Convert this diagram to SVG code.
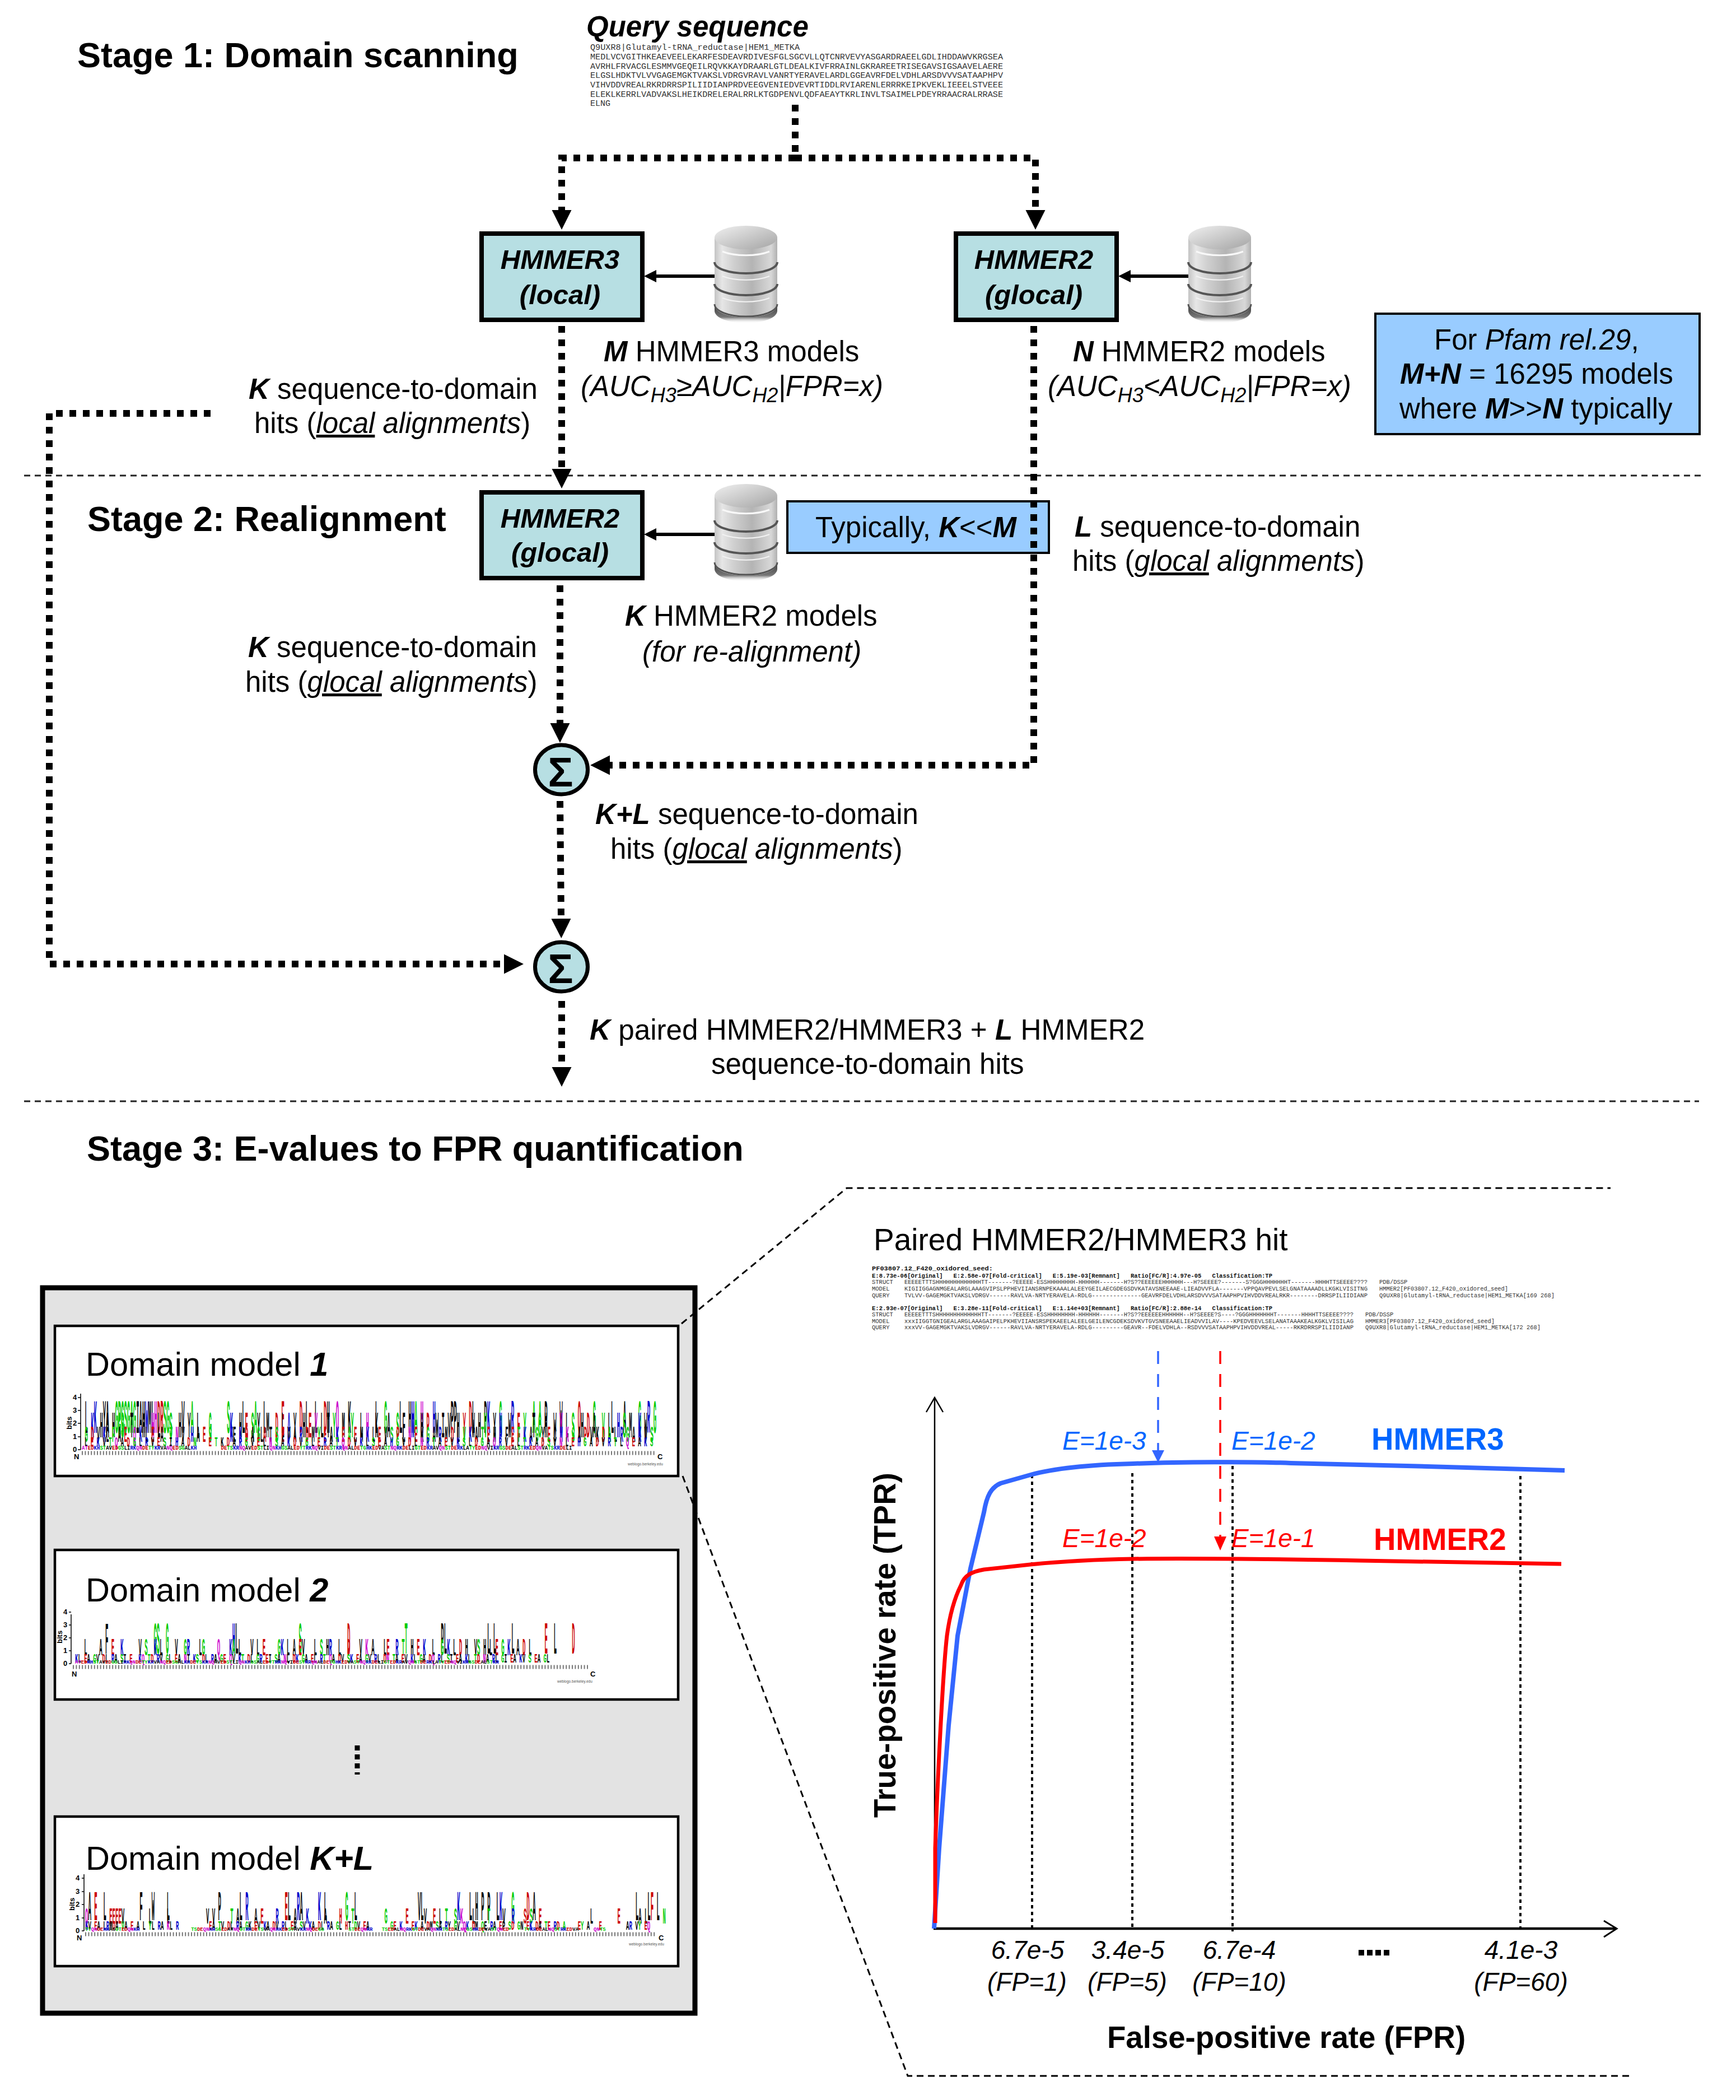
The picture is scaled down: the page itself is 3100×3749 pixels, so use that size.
<svg xmlns="http://www.w3.org/2000/svg" width="3100" height="3749" viewBox="0 0 3100 3749">
<style>
text{font-family:"Liberation Sans",Arial,sans-serif;fill:#000}
.f{font-size:51px}
.i{font-style:italic}
.bi{font-style:italic;font-weight:bold}
.u{text-decoration:underline}
.title{font-size:63px;font-weight:bold}
.node{font-size:49px;font-style:italic;font-weight:bold;text-anchor:middle}
.sig{font-size:75px;font-weight:bold;text-anchor:middle}
.box{fill:#b7dfe3;stroke:#000;stroke-width:8}
.note{fill:#99ccff;stroke:#000;stroke-width:4}
.dm{font-size:59.5px}
.thick{fill:none;stroke:#000;stroke-width:12;stroke-dasharray:12 12}
.sep{fill:none;stroke:#222;stroke-width:3;stroke-dasharray:11 8}
.trap{fill:none;stroke:#000;stroke-width:3;stroke-dasharray:12 8}
.dot{fill:none;stroke:#000;stroke-width:4;stroke-dasharray:6 6}
.seq{font-family:"Liberation Mono",monospace;font-size:15px;fill:#333}
.aln{font-family:"Liberation Mono",monospace;font-size:10.5px;fill:#333}
.alb{font-family:"Liberation Mono",monospace;font-size:11px;fill:#111;font-weight:bold}
.ev{font-size:46px;font-style:italic}
.ax{font-size:46px;font-style:italic;text-anchor:middle}
.lab{font-size:54.6px;font-weight:bold}
.lg{font-family:"Liberation Mono",monospace;font-size:9px;font-weight:bold;white-space:pre}
.g{fill:#00cc00}.b{fill:#0000cc}.r{fill:#cc0000}.m{fill:#cc00cc}
.tk{font-size:13px;font-weight:bold}
.wb{font-size:6.5px;fill:#555}
.num{fill:none;stroke:#777;stroke-width:7;stroke-dasharray:2 3.4}
.logoax{fill:none;stroke:#000;stroke-width:1.5}
</style>
<defs>
<linearGradient id="dbBody" x1="0" x2="1" y1="0" y2="0">
<stop offset="0" stop-color="#c4c4c4"/><stop offset=".12" stop-color="#e6e6e6"/><stop offset=".3" stop-color="#d0d0d0"/><stop offset=".6" stop-color="#b4b4b4"/><stop offset=".9" stop-color="#d8d8d8"/><stop offset="1" stop-color="#b0b0b0"/>
</linearGradient>
<linearGradient id="dbTop" x1="0" x2="1" y1="0" y2="1">
<stop offset="0" stop-color="#f0f0f0"/><stop offset="1" stop-color="#a4a4a4"/>
</linearGradient>
<linearGradient id="dbShade" x1="0" x2="0" y1="0" y2="1">
<stop offset="0" stop-color="#333"/><stop offset=".7" stop-color="#777"/><stop offset="1" stop-color="#fff" stop-opacity="0"/>
</linearGradient>
<g id="db">
<path d="M0 138 A56 22 0 0 0 112 138 L112 152 A56 22 0 0 1 0 152 Z" fill="url(#dbShade)"/>
<path d="M0 20 L112 20 L112 142 A56 22 0 0 1 0 142 Z" fill="url(#dbBody)"/>
<path d="M0 140 A56 22 0 0 0 112 140" fill="none" stroke="#555" stroke-width="3"/>
<path d="M0 65 A56 20 0 0 0 112 65" fill="none" stroke="#555" stroke-width="4"/>
<path d="M0 104 A56 20 0 0 0 112 104" fill="none" stroke="#555" stroke-width="4"/>
<path d="M14 90 A56 20 0 0 0 98 90" fill="none" stroke="#f2f2f2" stroke-width="2"/>
<path d="M14 129 A56 20 0 0 0 98 129" fill="none" stroke="#f2f2f2" stroke-width="2"/>
<path d="M14 46 A56 20 0 0 0 98 46" fill="none" stroke="#f8f8f8" stroke-width="3"/>
<ellipse cx="56" cy="21" rx="56" ry="21" fill="url(#dbTop)"/>
</g>
<marker id="ah" markerUnits="userSpaceOnUse" markerWidth="36" markerHeight="36" refX="0" refY="18" orient="auto"><path d="M0 0.5L35 18L0 35.5Z" fill="#000"/></marker>
<marker id="as" markerUnits="userSpaceOnUse" markerWidth="24" markerHeight="24" refX="0" refY="12" orient="auto"><path d="M0 1L22 12L0 23Z" fill="#000"/></marker>
<marker id="ab" markerUnits="userSpaceOnUse" markerWidth="24" markerHeight="24" refX="0" refY="12" orient="auto"><path d="M0 1L22 12L0 23Z" fill="#3366ff"/></marker>
<marker id="ar" markerUnits="userSpaceOnUse" markerWidth="26" markerHeight="24" refX="0" refY="12" orient="auto"><path d="M0 1L25 12L0 23Z" fill="#ff0000"/></marker>
</defs>
<rect width="3100" height="3749" fill="#fff"/>

<g id="separators">
<line class="sep" x1="43" y1="849" x2="3037" y2="849"/>
<line class="sep" x1="43" y1="1966" x2="3034" y2="1966"/>
</g>

<g id="titles">
<text class="title" x="138" y="120">Stage 1: Domain scanning</text>
<text class="title" x="156" y="948">Stage 2: Realignment</text>
<text class="title" x="155" y="2072">Stage 3: E-values to FPR quantification</text>
</g>

<g id="query">
<text class="bi" font-size="51" x="1047" y="65">Query sequence</text>
<text class="seq" x="1054" y="89" textLength="374" lengthAdjust="spacingAndGlyphs">Q9UXR8|Glutamyl-tRNA_reductase|HEM1_METKA</text>
<text class="seq" x="1054" y="106" textLength="737" lengthAdjust="spacingAndGlyphs">MEDLVCVGITHKEAEVEELEKARFESDEAVRDIVESFGLSGCVLLQTCNRVEVYASGARDRAEELGDLIHDDAWVKRGSEA</text>
<text class="seq" x="1054" y="123" textLength="737" lengthAdjust="spacingAndGlyphs">AVRHLFRVACGLESMMVGEQEILRQVKKAYDRAARLGTLDEALKIVFRRAINLGKRAREETRISEGAVSIGSAAVELAERE</text>
<text class="seq" x="1054" y="139" textLength="737" lengthAdjust="spacingAndGlyphs">ELGSLHDKTVLVVGAGEMGKTVAKSLVDRGVRAVLVANRTYERAVELARDLGGEAVRFDELVDHLARSDVVVSATAAPHPV</text>
<text class="seq" x="1054" y="156" textLength="737" lengthAdjust="spacingAndGlyphs">VIHVDDVREALRKRDRRSPILIIDIANPRDVEEGVENIEDVEVRTIDDLRVIARENLERRRKEIPKVEKLIEEELSTVEEE</text>
<text class="seq" x="1054" y="173" textLength="737" lengthAdjust="spacingAndGlyphs">ELEKLKERRLVADVAKSLHEIKDRELERALRRLKTGDPENVLQDFAEAYTKRLINVLTSAIMELPDEYRRAACRALRRASE</text>
<text class="seq" x="1054" y="189" textLength="36" lengthAdjust="spacingAndGlyphs">ELNG</text>
</g>

<g id="hmmer3-local">
<rect class="box" x="860" y="417" width="287" height="154"/>
<text class="node" x="1000" y="480">HMMER3</text>
<text class="node" x="1000" y="543">(local)</text>
</g>
<g id="db-m"><use href="#db" x="1276" y="403"/></g>
<g id="hmmer2-glocal-1">
<rect class="box" x="1707" y="417" width="287" height="154"/>
<text class="node" x="1846" y="480">HMMER2</text>
<text class="node" x="1846" y="543">(glocal)</text>
</g>
<g id="db-n"><use href="#db" x="2122" y="403"/></g>
<g id="hmmer2-glocal-2">
<rect class="box" x="860" y="879" width="287" height="153"/>
<text class="node" x="1000" y="942">HMMER2</text>
<text class="node" x="1000" y="1003">(glocal)</text>
</g>
<g id="db-k"><use href="#db" x="1276" y="864"/></g>

<g id="note-pfam">
<rect class="note" x="2456" y="560" width="579" height="215"/>
<text class="f" x="2561" y="624">For <tspan class="i">Pfam rel.29</tspan>,</text>
<text class="f" x="2500" y="685"><tspan class="bi">M+N</tspan> = 16295 models</text>
<text class="f" x="2499" y="747">where <tspan class="bi">M</tspan>&gt;&gt;<tspan class="bi">N</tspan> typically</text>
</g>
<g id="note-kmm">
<rect class="note" x="1406" y="895" width="467" height="92"/>
<text class="f" x="1456" y="959">Typically, <tspan class="bi">K</tspan>&lt;&lt;<tspan class="bi">M</tspan></text>
</g>

<g id="labels">
<text class="f" x="1078" y="645"><tspan class="bi">M</tspan> HMMER3 models</text>
<text class="f i" x="1037" y="707">(AUC<tspan font-size="36" dy="11">H3</tspan><tspan dy="-11">≥AUC</tspan><tspan font-size="36" dy="11">H2</tspan><tspan dy="-11">|FPR=x)</tspan></text>
<text class="f" x="1916" y="645"><tspan class="bi">N</tspan> HMMER2 models</text>
<text class="f i" x="1871" y="707">(AUC<tspan font-size="36" dy="11">H3</tspan><tspan dy="-11">&lt;AUC</tspan><tspan font-size="36" dy="11">H2</tspan><tspan dy="-11">|FPR=x)</tspan></text>
<text class="f" x="444" y="712"><tspan class="bi">K</tspan> sequence-to-domain</text>
<text class="f" x="454" y="773">hits (<tspan class="i u">local</tspan><tspan class="i"> alignments</tspan>)</text>
<text class="f" x="1919" y="958"><tspan class="bi">L</tspan> sequence-to-domain</text>
<text class="f" x="1915" y="1019">hits (<tspan class="i u">glocal</tspan><tspan class="i"> alignments</tspan>)</text>
<text class="f" x="1116" y="1117"><tspan class="bi">K</tspan> HMMER2 models</text>
<text class="f i" x="1147" y="1181">(for re-alignment)</text>
<text class="f" x="443" y="1173"><tspan class="bi">K</tspan> sequence-to-domain</text>
<text class="f" x="438" y="1235">hits (<tspan class="i u">glocal</tspan><tspan class="i"> alignments</tspan>)</text>
<text class="f" x="1063" y="1471"><tspan class="bi">K+L</tspan> sequence-to-domain</text>
<text class="f" x="1090" y="1533">hits (<tspan class="i u">glocal</tspan><tspan class="i"> alignments</tspan>)</text>
<text class="f" style="font-size:51.2px" x="1053" y="1856"><tspan class="bi">K</tspan> paired HMMER2/HMMER3 + <tspan class="bi">L</tspan> HMMER2</text>
<text class="f" x="1270" y="1917">sequence-to-domain hits</text>
</g>

<g id="sum-1">
<ellipse cx="1002.5" cy="1374" rx="47" ry="44" fill="#b7dfe3" stroke="#000" stroke-width="7"/>
<text class="sig" x="1001" y="1404">Σ</text>
</g>
<g id="sum-2">
<ellipse cx="1002.5" cy="1726" rx="47" ry="44" fill="#b7dfe3" stroke="#000" stroke-width="7"/>
<text class="sig" x="1001" y="1755">Σ</text>
</g>

<g id="connectors">
<path class="thick" d="M1420 187V282"/>
<path class="thick" d="M1420 282H1003V375" marker-end="url(#ah)"/>
<path class="thick" d="M1420 282H1849V375" marker-end="url(#ah)"/>
<path class="thick" d="M1003 582V837" marker-end="url(#ah)"/>
<path class="thick" d="M1846 582V1366H1089" marker-end="url(#ah)"/>
<path class="thick" d="M376 738H88V1721H900" marker-end="url(#ah)"/>
<path class="thick" d="M1000 1045V1291" marker-end="url(#ah)"/>
<path class="thick" d="M1000 1430L1002 1640" marker-end="url(#ah)"/>
<path class="thick" d="M1003 1787V1905" marker-end="url(#ah)"/>
<line x1="1276" y1="493" x2="1172" y2="493" stroke="#000" stroke-width="6" marker-end="url(#as)"/>
<line x1="2122" y1="493" x2="2019" y2="493" stroke="#000" stroke-width="6" marker-end="url(#as)"/>
<line x1="1276" y1="954" x2="1172" y2="954" stroke="#000" stroke-width="6" marker-end="url(#as)"/>
</g>

<g id="domain-panel">
<rect x="76" y="2299" width="1165" height="1295" fill="#e3e3e3" stroke="#000" stroke-width="9"/>
</g>

<g id="domain-1">
<rect x="98" y="2367" width="1113" height="268" fill="#fff" stroke="#000" stroke-width="4.5"/>
<text class="dm" x="153" y="2456">Domain model <tspan class="bi">1</tspan></text>
<path class="logoax" d="M144 2488V2588M139 2588H144M139 2565H144M139 2541H144M139 2518H144M139 2495H144"/>
<text class="tk" x="130" y="2499">4</text><text class="tk" x="130" y="2522">3</text><text class="tk" x="130" y="2545">2</text><text class="tk" x="130" y="2569">1</text><text class="tk" x="130" y="2592">0</text>
<text class="tk" transform="translate(128,2552) rotate(-90)">bits</text>
<line class="num" x1="146" y1="2594" x2="1172" y2="2594"/>
<text class="tk" x="132" y="2605">N</text><text class="tk" x="1174" y="2605">C</text>
<text class="wb" x="1121" y="2616">weblogo.berkeley.edu</text>
<g transform="translate(0,2588)">
<text class="lg" x="146" y="-3.2" transform="scale(1,9.5)"> L  <tspan class="b">K</tspan>  YA  <tspan class="g">GPGSGAG</tspan>IAH<tspan class="b">W</tspan>ML<tspan class="m">H</tspan><tspan class="r">DR</tspan><tspan class="g">SG</tspan>    V  <tspan class="g">A</tspan>           <tspan class="g">S</tspan>    L   <tspan class="g">A</tspan>  L     <tspan class="r">E</tspan>     <tspan class="r">D</tspan> L  L  <tspan class="r">D</tspan>H  <tspan class="m">Q</tspan>   K        L  <tspan class="g">G</tspan>    L  H<tspan class="b">H</tspan><tspan class="g">A</tspan> <tspan class="m">H</tspan>   <tspan class="b">H</tspan>     PP    <tspan class="r">D</tspan>L   P<tspan class="b">K</tspan>   <tspan class="g">G</tspan>   <tspan class="b">R</tspan>      <tspan class="g">A</tspan> <tspan class="g">A</tspan> P    W     <tspan class="r">Q</tspan>    <tspan class="g">G</tspan>     L   A    <tspan class="g">G</tspan>  <tspan class="b">R</tspan> <tspan class="g">G</tspan></text>
<text class="lg" x="146" y="-2.9" transform="scale(1,7.5)">   <tspan class="b">K</tspan>  H A H <tspan class="g">GS</tspan>  T   H  <tspan class="m">H</tspan> L   <tspan class="g">S</tspan>  H  Y  L   <tspan class="g">G</tspan>      <tspan class="b">K</tspan>  H <tspan class="r">E</tspan> <tspan class="g">S</tspan> Y  M  <tspan class="r">D</tspan> L <tspan class="b">A</tspan> Y  H <tspan class="r">E</tspan> <tspan class="m">Y</tspan> L T <tspan class="g">Y</tspan>  M  <tspan class="g">Y</tspan>  L <tspan class="m">H</tspan>  K   A  <tspan class="g">S</tspan> F  <tspan class="b">N</tspan>  H <tspan class="r">P</tspan>  W I V  H <tspan class="r">Y</tspan>  W H <tspan class="g">V</tspan>  Y <tspan class="b">N</tspan>  W  <tspan class="r">E</tspan> <tspan class="g">Y</tspan>  T <tspan class="g">C</tspan> H  W <tspan class="m">Y</tspan> L <tspan class="g">S</tspan>  H <tspan class="r">D</tspan> A  <tspan class="g">V</tspan> L  <tspan class="b">H</tspan> <tspan class="g">S</tspan> M  <tspan class="b">K</tspan> W</text>
<text class="lg" x="146" y="-3.1" transform="scale(1,4.5)"> <tspan class="g">G</tspan> <tspan class="r">D</tspan> V <tspan class="b">K</tspan>L <tspan class="g">F</tspan> A <tspan class="r">E</tspan>  <tspan class="m">Q</tspan> <tspan class="b">K</tspan> L <tspan class="r">E</tspan>  A  <tspan class="g">T</tspan> <tspan class="m">N</tspan> V  <tspan class="b">H</tspan> A <tspan class="r">E</tspan> <tspan class="g">S</tspan>      <tspan class="b">K</tspan>E <tspan class="b">K</tspan> <tspan class="r">D</tspan> A <tspan class="g">G</tspan>L<tspan class="r">A</tspan> T <tspan class="g">S</tspan> <tspan class="r">E</tspan> V A <tspan class="b">R</tspan> <tspan class="r">D</tspan> M <tspan class="g">Y</tspan> <tspan class="r">E</tspan> A <tspan class="b">K</tspan> <tspan class="r">E</tspan> <tspan class="g">A</tspan> <tspan class="r">E</tspan> M <tspan class="b">K</tspan> L <tspan class="r">E</tspan> V <tspan class="g">S</tspan> <tspan class="r">P</tspan> L <tspan class="m">N</tspan> <tspan class="r">E</tspan> K <tspan class="g">G</tspan> A <tspan class="b">R</tspan> M <tspan class="r">D</tspan> L <tspan class="g">V</tspan> <tspan class="b">K</tspan> A <tspan class="g">T</tspan> <tspan class="r">E</tspan> H <tspan class="b">P</tspan> F <tspan class="r">E</tspan> <tspan class="g">T</tspan> <tspan class="b">K</tspan> A <tspan class="g">G</tspan> Y <tspan class="r">E</tspan> C <tspan class="b">M</tspan> <tspan class="m">K</tspan> <tspan class="g">S</tspan> A <tspan class="r">P</tspan> V K <tspan class="r">D</tspan> <tspan class="g">A</tspan> L <tspan class="b">R</tspan> <tspan class="g">G</tspan> A <tspan class="b">K</tspan> V <tspan class="g">S</tspan></text>
<text class="lg" x="151" y="-2.3" transform="scale(1,2.6)">L <tspan class="r">E</tspan> <tspan class="b">K</tspan> V <tspan class="g">T</tspan> <tspan class="m">Q</tspan> A <tspan class="r">D</tspan> <tspan class="g">G</tspan> L <tspan class="b">R</tspan> V <tspan class="r">E</tspan> <tspan class="g">S</tspan> I <tspan class="b">H</tspan> A <tspan class="r">D</tspan> <tspan class="g">N</tspan>    <tspan class="r">E</tspan> <tspan class="g">T</tspan> K <tspan class="r">D</tspan> A <tspan class="b">R</tspan> <tspan class="g">G</tspan> V <tspan class="r">E</tspan> L <tspan class="m">N</tspan> <tspan class="g">S</tspan> A <tspan class="b">K</tspan> <tspan class="r">D</tspan> V <tspan class="g">G</tspan> L <tspan class="r">E</tspan> <tspan class="b">R</tspan> A <tspan class="g">T</tspan> <tspan class="m">Q</tspan> <tspan class="r">D</tspan> V <tspan class="b">K</tspan> L <tspan class="g">S</tspan> <tspan class="r">E</tspan> A <tspan class="b">H</tspan> <tspan class="g">G</tspan> V <tspan class="r">D</tspan> L <tspan class="m">N</tspan> <tspan class="b">R</tspan> <tspan class="g">T</tspan> A <tspan class="r">E</tspan> V <tspan class="b">K</tspan> <tspan class="g">S</tspan> L <tspan class="r">D</tspan> <tspan class="g">G</tspan> A <tspan class="m">Q</tspan> <tspan class="b">R</tspan> V <tspan class="r">E</tspan> L <tspan class="g">T</tspan> <tspan class="b">K</tspan> A <tspan class="r">D</tspan> <tspan class="g">S</tspan> V <tspan class="m">N</tspan> L <tspan class="r">E</tspan> <tspan class="b">H</tspan> <tspan class="g">G</tspan> A <tspan class="r">D</tspan> V <tspan class="b">R</tspan> <tspan class="g">T</tspan> L <tspan class="m">Q</tspan> <tspan class="r">E</tspan> A <tspan class="b">K</tspan> <tspan class="g">S</tspan></text>
<text class="lg" x="146" y="-0.2" transform="scale(1,1.2)"><tspan class="m">AT</tspan><tspan class="r">ED</tspan><tspan class="b">KH</tspan><tspan class="g">ST</tspan>AV<tspan class="r">ED</tspan><tspan class="g">GS</tspan>LI<tspan class="b">RK</tspan><tspan class="m">QN</tspan><tspan class="r">DE</tspan><tspan class="g">TY</tspan><tspan class="b">KR</tspan>VA<tspan class="m">NQ</tspan><tspan class="r">ED</tspan><tspan class="g">SG</tspan>AL<tspan class="b">KH</tspan>        <tspan class="r">DE</tspan><tspan class="g">TS</tspan><tspan class="b">KR</tspan><tspan class="m">NQ</tspan>AV<tspan class="r">ED</tspan><tspan class="g">ST</tspan>LI<tspan class="m">QN</tspan><tspan class="b">KH</tspan><tspan class="g">GS</tspan>AL<tspan class="r">ED</tspan><tspan class="g">YT</tspan><tspan class="b">RK</tspan><tspan class="m">NQ</tspan>VI<tspan class="r">DE</tspan><tspan class="g">ST</tspan><tspan class="b">KR</tspan><tspan class="m">QN</tspan>AL<tspan class="r">DE</tspan><tspan class="g">TG</tspan><tspan class="b">HK</tspan><tspan class="r">ED</tspan>VA<tspan class="g">ST</tspan><tspan class="m">NQ</tspan><tspan class="b">RK</tspan><tspan class="r">DE</tspan>LI<tspan class="g">GT</tspan><tspan class="r">ED</tspan><tspan class="b">KR</tspan>AV<tspan class="m">QN</tspan><tspan class="g">ST</tspan><tspan class="r">DE</tspan><tspan class="b">RK</tspan>LA<tspan class="g">TY</tspan><tspan class="r">ED</tspan><tspan class="m">NQ</tspan>VI<tspan class="b">KR</tspan><tspan class="g">GS</tspan><tspan class="r">DE</tspan>AL<tspan class="g">ST</tspan><tspan class="b">RK</tspan><tspan class="r">ED</tspan><tspan class="m">QN</tspan>VA<tspan class="g">TS</tspan><tspan class="b">KR</tspan><tspan class="r">DE</tspan>LI</text>
</g>
</g>

<g id="domain-2">
<rect x="98" y="2767" width="1113" height="267" fill="#fff" stroke="#000" stroke-width="4.5"/>
<text class="dm" x="153" y="2859">Domain model <tspan class="bi">2</tspan></text>
<path class="logoax" d="M127 2882V2970M123 2970H127M123 2947H127M123 2924H127M123 2901H127M123 2878H127"/>
<text class="tk" x="113" y="2882">4</text><text class="tk" x="113" y="2905">3</text><text class="tk" x="113" y="2928">2</text><text class="tk" x="113" y="2951">1</text><text class="tk" x="113" y="2974">0</text>
<text class="tk" transform="translate(111,2934) rotate(-90)">bits</text>
<line class="num" x1="130" y1="2976" x2="1052" y2="2976"/>
<text class="tk" x="128" y="2993">N</text><text class="tk" x="1054" y="2993">C</text>
<text class="wb" x="995" y="3004">weblogo.berkeley.edu</text>
<g transform="translate(0,2970)">
<text class="lg" x="134" y="-2" transform="scale(1,9)">          F               <tspan class="g">GS</tspan>  <tspan class="g">G</tspan>                     <tspan class="b">H</tspan>L                    <tspan class="g">S</tspan>               <tspan class="r">D</tspan>                  <tspan class="g">T</tspan>           PL</text>
<text class="lg" x="870" y="-2" transform="scale(1,9)">L L     L          <tspan class="r">E</tspan>  L     <tspan class="r">D</tspan></text>
<text class="lg" x="134" y="-3" transform="scale(1,5)">   L    A   <tspan class="r">E</tspan>  <tspan class="b">K</tspan>     V <tspan class="g">S</tspan>  <tspan class="b">K</tspan> L    V  <tspan class="g">G</tspan><tspan class="b">R</tspan>   L<tspan class="g">G</tspan>    <tspan class="m">Q</tspan>   <tspan class="b">K</tspan><tspan class="g">A</tspan> L   V L <tspan class="r">E</tspan>    <tspan class="g">G</tspan><tspan class="b">K</tspan> L A <tspan class="r">E</tspan>V   L <tspan class="g">S</tspan> H<tspan class="b">R</tspan>  L  <tspan class="r">D</tspan>   V <tspan class="m">K</tspan> A   L<tspan class="r">E</tspan>  <tspan class="b">R</tspan> <tspan class="g">T</tspan>  H <tspan class="r">E</tspan> <tspan class="b">K</tspan>  L  <tspan class="g">G</tspan> <tspan class="b">K</tspan> L <tspan class="r">D</tspan> H  V<tspan class="g">S</tspan> H L <tspan class="r">E</tspan> <tspan class="g">G</tspan> <tspan class="b">K</tspan>  A <tspan class="r">D</tspan> L</text>
<text class="lg" x="134" y="-1" transform="scale(1,2.4)"><tspan class="b">K</tspan>L <tspan class="r">E</tspan>A <tspan class="g">G</tspan>V <tspan class="r">D</tspan>L <tspan class="b">R</tspan>A <tspan class="g">S</tspan>I <tspan class="r">E</tspan>  <tspan class="b">K</tspan><tspan class="m">Q</tspan> <tspan class="g">T</tspan><tspan class="r">D</tspan> <tspan class="b">R</tspan>V <tspan class="g">G</tspan>L <tspan class="r">E</tspan>A <tspan class="m">N</tspan>I <tspan class="b">K</tspan><tspan class="g">S</tspan> <tspan class="r">D</tspan>L <tspan class="b">R</tspan>A <tspan class="g">G</tspan><tspan class="r">E</tspan> <tspan class="m">Q</tspan>V <tspan class="b">K</tspan><tspan class="g">T</tspan> <tspan class="r">D</tspan>L <tspan class="g">G</tspan><tspan class="b">R</tspan> <tspan class="r">E</tspan>I <tspan class="g">S</tspan>A <tspan class="m">N</tspan>L <tspan class="r">D</tspan><tspan class="b">K</tspan> <tspan class="g">G</tspan>A <tspan class="r">E</tspan>L <tspan class="b">R</tspan><tspan class="g">T</tspan> <tspan class="m">Q</tspan>A <tspan class="r">D</tspan>V <tspan class="g">S</tspan><tspan class="b">K</tspan> <tspan class="r">E</tspan>A <tspan class="g">G</tspan>V <tspan class="b">R</tspan>L <tspan class="r">D</tspan><tspan class="m">N</tspan> <tspan class="g">T</tspan>A <tspan class="r">E</tspan>V <tspan class="b">K</tspan>L <tspan class="g">G</tspan>A <tspan class="r">D</tspan><tspan class="m">Q</tspan> <tspan class="b">R</tspan>L <tspan class="g">S</tspan>I <tspan class="r">E</tspan>A <tspan class="b">K</tspan>L <tspan class="g">T</tspan><tspan class="r">D</tspan> <tspan class="m">N</tspan>A <tspan class="b">R</tspan>L <tspan class="g">G</tspan>I <tspan class="r">E</tspan>A <tspan class="b">K</tspan>V <tspan class="g">S</tspan> <tspan class="r">E</tspan>A <tspan class="g">G</tspan>L</text>
<text class="lg" x="134" y="-0.2" transform="scale(1,1)"><tspan class="m">AT</tspan><tspan class="r">ED</tspan><tspan class="b">KH</tspan><tspan class="g">ST</tspan>AV<tspan class="r">ED</tspan><tspan class="g">GS</tspan>LI<tspan class="b">RK</tspan><tspan class="m">QN</tspan><tspan class="r">DE</tspan><tspan class="g">TY</tspan><tspan class="b">KR</tspan>VA<tspan class="m">NQ</tspan><tspan class="r">ED</tspan><tspan class="g">SG</tspan>AL<tspan class="b">KH</tspan><tspan class="r">DE</tspan><tspan class="g">TS</tspan><tspan class="b">KR</tspan><tspan class="m">NQ</tspan>AV<tspan class="r">ED</tspan><tspan class="g">ST</tspan>LI<tspan class="m">QN</tspan><tspan class="b">KH</tspan><tspan class="g">GS</tspan>AL<tspan class="r">ED</tspan><tspan class="g">YT</tspan><tspan class="b">RK</tspan><tspan class="m">NQ</tspan>VI<tspan class="r">DE</tspan><tspan class="g">ST</tspan><tspan class="b">KR</tspan><tspan class="m">QN</tspan>AL<tspan class="r">DE</tspan><tspan class="g">TG</tspan><tspan class="b">HK</tspan><tspan class="r">ED</tspan>VA<tspan class="g">ST</tspan><tspan class="m">NQ</tspan><tspan class="b">RK</tspan><tspan class="r">DE</tspan>LI<tspan class="g">GT</tspan><tspan class="r">ED</tspan><tspan class="b">KR</tspan>AV<tspan class="m">QN</tspan><tspan class="g">ST</tspan><tspan class="r">DE</tspan><tspan class="b">RK</tspan>LA<tspan class="g">TY</tspan><tspan class="r">ED</tspan><tspan class="m">NQ</tspan>VI<tspan class="b">KR</tspan><tspan class="g">GS</tspan><tspan class="r">DE</tspan>AL<tspan class="g">ST</tspan><tspan class="b">KR</tspan></text>
</g>
</g>

<g id="ellipsis-v"><line x1="638" y1="3116" x2="638" y2="3168" stroke="#000" stroke-width="9" stroke-dasharray="9 7"/></g>

<g id="domain-3">
<rect x="98" y="3243" width="1113" height="267" fill="#fff" stroke="#000" stroke-width="4.5"/>
<text class="dm" x="153" y="3338">Domain model <tspan class="bi">K+L</tspan></text>
<path class="logoax" d="M150 3346V3447M146 3447H150M146 3424H150M146 3400H150M146 3377H150M146 3353H150"/>
<text class="tk" x="135" y="3357">4</text><text class="tk" x="135" y="3381">3</text><text class="tk" x="135" y="3404">2</text><text class="tk" x="135" y="3428">1</text><text class="tk" x="135" y="3451">0</text>
<text class="tk" transform="translate(133,3411) rotate(-90)">bits</text>
<line class="num" x1="152" y1="3453" x2="1172" y2="3453"/>
<text class="tk" x="137" y="3464">N</text><text class="tk" x="1176" y="3464">C</text>
<text class="wb" x="1123" y="3473">weblogo.berkeley.edu</text>
<g transform="translate(0,3447)">
<text class="lg" x="152" y="-2.2" transform="scale(1,8.5)"> A <tspan class="r">E</tspan>  L           F   W    L                P      L <tspan class="b">R</tspan>            <tspan class="r">E</tspan>L  <tspan class="b">R</tspan>A     <tspan class="b">K</tspan> L      <tspan class="g">G</tspan>  L                    VL           <tspan class="b">K</tspan>   L H P P  L<tspan class="b">K</tspan>   <tspan class="g">G</tspan>    <tspan class="r">D</tspan> A                                 L   L<tspan class="r">F</tspan> L</text>
<text class="lg" x="152" y="-2.8" transform="scale(1,4.5)"><tspan class="m">Q</tspan>       <tspan class="r">EEEE</tspan>V        L     L            V V     <tspan class="g">T</tspan> A     A <tspan class="r">E</tspan>    <tspan class="b">R</tspan>     A   <tspan class="b">K</tspan>     A    <tspan class="r">H</tspan>   <tspan class="g">T</tspan>          <tspan class="g">G</tspan>      <tspan class="r">E</tspan>     V  <tspan class="r">E</tspan> L <tspan class="g">T</tspan>  <tspan class="g">S</tspan> <tspan class="m">K</tspan>   L    <tspan class="g">T</tspan>    V  <tspan class="b">R</tspan>   <tspan class="r">S</tspan> <tspan class="g">S</tspan>  <tspan class="r">E</tspan>                L        <tspan class="r">E</tspan>      A L     <tspan class="g">N</tspan></text>
<text class="lg" x="152" y="-0.8" transform="scale(1,2.4)"><tspan class="b">K</tspan>V <tspan class="r">E</tspan>A L<tspan class="b">R</tspan>M<tspan class="r">D</tspan>A <tspan class="g">V</tspan>A <tspan class="r">E</tspan> A L <tspan class="g">Y</tspan>L <tspan class="b">R</tspan>A <tspan class="m">K</tspan>L <tspan class="b">R</tspan>          <tspan class="r">E</tspan>A <tspan class="g">T</tspan>V <tspan class="r">D</tspan>L <tspan class="b">R</tspan>A <tspan class="g">G</tspan>K <tspan class="r">E</tspan>V <tspan class="b">K</tspan>A <tspan class="r">D</tspan>V <tspan class="b">R</tspan>L <tspan class="r">E</tspan>A <tspan class="g">S</tspan>V <tspan class="b">K</tspan>A <tspan class="r">D</tspan>L <tspan class="b">R</tspan>A <tspan class="g">G</tspan>L <tspan class="r">H</tspan>T <tspan class="g">D</tspan>V <tspan class="r">E</tspan>A       <tspan class="g">G</tspan><tspan class="r">E</tspan> <tspan class="b">K</tspan>   <tspan class="r">E</tspan><tspan class="b">K</tspan> A <tspan class="r">D</tspan>M <tspan class="g">S</tspan>A <tspan class="b">R</tspan>Y <tspan class="g">G</tspan>V <tspan class="m">Q</tspan><tspan class="b">K</tspan> <tspan class="r">D</tspan>M <tspan class="g">Q</tspan>E <tspan class="b">R</tspan>A <tspan class="r">E</tspan>P <tspan class="g">S</tspan><tspan class="r">D</tspan> <tspan class="g">G</tspan>N <tspan class="r">E</tspan><tspan class="b">K</tspan> <tspan class="r">D</tspan>A <tspan class="g">T</tspan><tspan class="r">E</tspan> <tspan class="b">R</tspan><tspan class="r">D</tspan> <tspan class="g">A</tspan>    <tspan class="r">E</tspan><tspan class="g">Y</tspan> A   <tspan class="r">E</tspan>        A<tspan class="b">R</tspan> V<tspan class="g">Y</tspan> <tspan class="r">E</tspan><tspan class="m">Q</tspan></text>
<text class="lg" x="152" y="-0.2" transform="scale(1,1)"><tspan class="g">TY</tspan><tspan class="m">QN</tspan><tspan class="r">DE</tspan><tspan class="b">HK</tspan>AS<tspan class="g">GT</tspan><tspan class="r">ED</tspan><tspan class="m">QN</tspan><tspan class="b">KR</tspan>                 <tspan class="g">TS</tspan><tspan class="r">DE</tspan><tspan class="m">QN</tspan><tspan class="b">KR</tspan><tspan class="g">SG</tspan><tspan class="r">ED</tspan>AT<tspan class="m">NQ</tspan><tspan class="g">GT</tspan><tspan class="b">RK</tspan><tspan class="r">DE</tspan><tspan class="g">TS</tspan>VA<tspan class="m">QN</tspan><tspan class="b">HK</tspan><tspan class="r">ED</tspan><tspan class="g">ST</tspan>AV<tspan class="b">KR</tspan><tspan class="m">NQ</tspan><tspan class="r">DE</tspan><tspan class="g">GS</tspan>        <tspan class="g">ST</tspan><tspan class="r">DE</tspan><tspan class="m">QN</tspan><tspan class="b">KR</tspan>   <tspan class="g">TS</tspan><tspan class="r">ED</tspan>AL<tspan class="m">NQ</tspan><tspan class="b">RK</tspan><tspan class="g">ST</tspan><tspan class="r">DE</tspan>VA<tspan class="m">QN</tspan><tspan class="b">KR</tspan><tspan class="g">TS</tspan><tspan class="r">ED</tspan>AL<tspan class="m">NQ</tspan><tspan class="g">GS</tspan><tspan class="b">HK</tspan><tspan class="r">DE</tspan>VA<tspan class="g">ST</tspan><tspan class="m">QN</tspan><tspan class="r">ED</tspan>     <tspan class="g">TY</tspan><tspan class="b">KR</tspan><tspan class="r">DE</tspan>AL<tspan class="m">NQ</tspan><tspan class="g">ST</tspan><tspan class="b">RK</tspan><tspan class="r">ED</tspan>VA     <tspan class="m">QN</tspan><tspan class="g">TS</tspan></text>
</g>
</g>

<g id="zoom-outline">
<path class="trap" d="M1217 2363L1512 2121H2876"/>
<path class="trap" d="M1219 2635L1621 3706H2916"/>
</g>

<g id="paired-hit">
<text font-size="55" x="1560" y="2232">Paired HMMER2/HMMER3 hit</text>
<text class="alb" x="1557" y="2268" textLength="216" lengthAdjust="spacingAndGlyphs">PF03807.12_F420_oxidored_seed:</text>
<text class="alb" x="1557" y="2281" textLength="715" lengthAdjust="spacingAndGlyphs" xml:space="preserve">E:8.73e-06[Original]   E:2.58e-07[Fold-critical]   E:5.19e-03[Remnant]   Ratio[FC/R]:4.97e-05   Classification:TP</text>
<text class="aln" x="1557" y="2292">STRUCT</text>
<text class="aln" x="1615" y="2292" textLength="827" lengthAdjust="spacingAndGlyphs">EEEEETTTSHHHHHHHHHHHHHTT-------?EEEEE-ESSHHHHHHHH-HHHHHH-------H?S??EEEEEEHHHHHH---H?SEEEE?-------S?GGGHHHHHHHT-------HHHHTTSEEEE????</text>
<text class="aln" x="2463" y="2292">PDB/DSSP</text>
<text class="aln" x="1557" y="2304">MODEL</text>
<text class="aln" x="1615" y="2304" textLength="827" lengthAdjust="spacingAndGlyphs">KIGIIGGAGNMGEALARGLAAAGVIPSLPPHEVIIANSRNPEKAAALALEEYGEILAECGDEGSDVKATAVSNEEAAE-LIEADVVFLA-------VPPQAVPEVLSELGNATAAAADLLKGKLVISITNG</text>
<text class="aln" x="2463" y="2304" textLength="230" lengthAdjust="spacingAndGlyphs">HMMER2[PF03807.12_F420_oxidored_seed]</text>
<text class="aln" x="1557" y="2316">QUERY</text>
<text class="aln" x="1615" y="2316" textLength="827" lengthAdjust="spacingAndGlyphs">TVLVV-GAGEMGKTVAKSLVDRGV------RAVLVA-NRTYERAVELA-RDLG--------------GEAVRFDELVDHLARSDVVVSATAAPHPVIHVDDVREALRKR--------DRRSPILIIDIANP</text>
<text class="aln" x="2463" y="2316" textLength="313" lengthAdjust="spacingAndGlyphs">Q9UXR8|Glutamyl-tRNA_reductase|HEM1_METKA[169 268]</text>
<text class="alb" x="1557" y="2339" textLength="715" lengthAdjust="spacingAndGlyphs" xml:space="preserve">E:2.93e-07[Original]   E:3.28e-11[Fold-critical]   E:1.14e+03[Remnant]   Ratio[FC/R]:2.88e-14   Classification:TP</text>
<text class="aln" x="1557" y="2350">STRUCT</text>
<text class="aln" x="1615" y="2350" textLength="802" lengthAdjust="spacingAndGlyphs">EEEEETTTSHHHHHHHHHHHHHTT-------?EEEEE-ESSHHHHHHHH-HHHHHH-------H?S??EEEEEEHHHHHH--H?SEEEE?S----?GGGHHHHHHHT-------HHHHTTSEEEE????</text>
<text class="aln" x="2438" y="2350">PDB/DSSP</text>
<text class="aln" x="1557" y="2362">MODEL</text>
<text class="aln" x="1615" y="2362" textLength="802" lengthAdjust="spacingAndGlyphs">xxxIIGGTGNIGEALARGLAAAGAIPELPKHEVIIANSRSPEKAEELALEELGEILENCGDEKSDVKVTGVSNEEAAELIEADVVILAV----KPEDVEEVLSELANATAAAKEALKGKLVISILAG</text>
<text class="aln" x="2438" y="2362" textLength="231" lengthAdjust="spacingAndGlyphs">HMMER3[PF03807.12_F420_oxidored_seed]</text>
<text class="aln" x="1557" y="2373">QUERY</text>
<text class="aln" x="1615" y="2373" textLength="802" lengthAdjust="spacingAndGlyphs">xxxVV-GAGEMGKTVAKSLVDRGV------RAVLVA-NRTYERAVELA-RDLG---------GEAVR--FDELVDHLA--RSDVVVSATAAPHPVIHVDDVREAL-----RKRDRRSPILIIDIANP</text>
<text class="aln" x="2438" y="2373" textLength="313" lengthAdjust="spacingAndGlyphs">Q9UXR8|Glutamyl-tRNA_reductase|HEM1_METKA[172 268]</text>
</g>

<g id="roc-chart">
<path class="dot" d="M1843 2633V3443"/>
<path class="dot" d="M2022 2630V3443"/>
<path class="dot" d="M2201 2617V3448"/>
<path class="dot" d="M2715 2635V3443"/>
<path d="M1669 3443V2497" fill="none" stroke="#000" stroke-width="2.5"/>
<path d="M1654 2521L1669 2495L1684 2521" fill="none" stroke="#000" stroke-width="2.5"/>
<path d="M1667 3443H2886" fill="none" stroke="#000" stroke-width="4.5"/>
<path d="M2864 3429L2887 3443L2864 3458" fill="none" stroke="#000" stroke-width="3"/>
<path d="M1668 3443L1677 3300L1694 3080L1710 2920L1733 2800L1757 2700C1762 2670 1770 2655 1787 2648L1840 2633C1880 2622 1940 2615 2023 2613C2100 2610 2240 2609 2305 2612L2512 2617L2794 2625" fill="none" stroke="#3366ff" stroke-width="8"/>
<path d="M1670 3433L1670 3300C1674 3180 1684 2980 1691 2920C1697 2875 1706 2850 1716 2830C1722 2812 1735 2806 1757 2802L1840 2793C1900 2787 1960 2784 2023 2783C2100 2782 2200 2782 2429 2786L2788 2792" fill="none" stroke="#ff0000" stroke-width="7"/>
<line x1="2068" y1="2412" x2="2068" y2="2589" stroke="#3366ff" stroke-width="3.5" stroke-dasharray="23 18" marker-end="url(#ab)"/>
<line x1="2179" y1="2412" x2="2179" y2="2743" stroke="#ff0000" stroke-width="3.5" stroke-dasharray="23 18" marker-end="url(#ar)"/>
<text class="ev" x="1897" y="2588" style="fill:#0066ff">E=1e-3</text>
<text class="ev" x="2199" y="2588" style="fill:#0066ff">E=1e-2</text>
<text class="lab" x="2449" y="2588" style="fill:#0066ff">HMMER3</text>
<text class="ev" x="1897" y="2762" style="fill:#ff0000">E=1e-2</text>
<text class="ev" x="2199" y="2762" style="fill:#ff0000">E=1e-1</text>
<text class="lab" x="2453" y="2767" style="fill:#ff0000">HMMER2</text>
<text class="ax" x="1835" y="3497">6.7e-5</text>
<text class="ax" x="2014" y="3497">3.4e-5</text>
<text class="ax" x="2213" y="3497">6.7e-4</text>
<text class="ax" x="2716" y="3497">4.1e-3</text>
<text class="ax" x="1834" y="3554">(FP=1)</text>
<text class="ax" x="2013" y="3554">(FP=5)</text>
<text class="ax" x="2213" y="3554">(FP=10)</text>
<text class="ax" x="2716" y="3554">(FP=60)</text>
<line x1="2426" y1="3486" x2="2482" y2="3486" stroke="#000" stroke-width="10" stroke-dasharray="10 5"/>
<text class="lab" x="1977" y="3656">False-positive rate (FPR)</text>
<text class="lab" transform="translate(1599,3245) rotate(-90)">True-positive rate (TPR)</text>
</g>
</svg>
